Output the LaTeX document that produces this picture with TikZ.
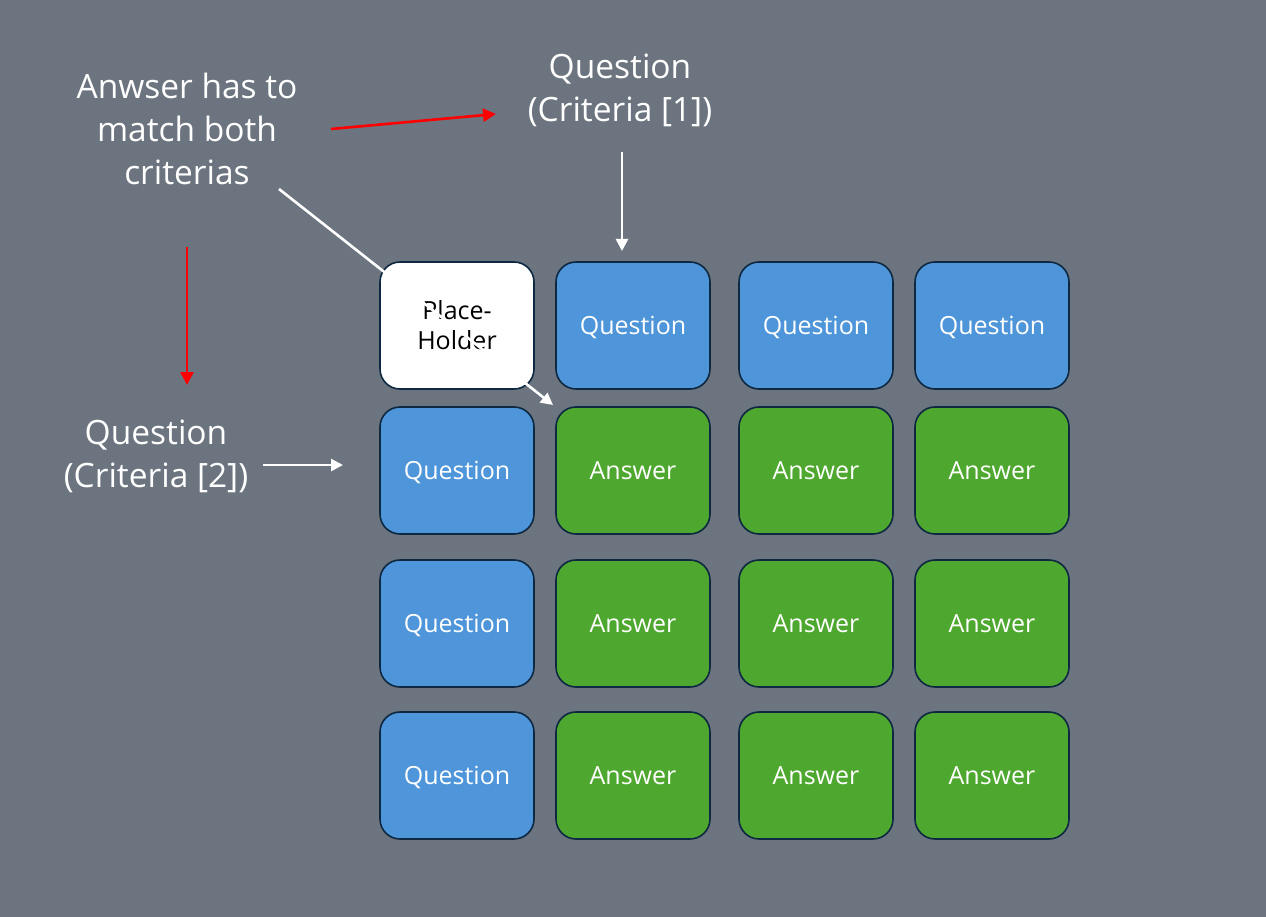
\documentclass[tikz,border=0pt]{standalone}
\usepackage{fontspec}
\setmainfont{Open Sans}
\usetikzlibrary{arrows.meta}
\definecolor{bg}{RGB}{108,117,127}
\definecolor{qblue}{RGB}{78,149,217}
\definecolor{agreen}{RGB}{78,167,46}
\definecolor{edge}{RGB}{14,40,65}
\tikzset{
  cell/.style={draw=edge, line width=1.6pt, rounded corners=20pt, minimum width=154pt, minimum height=127pt, inner sep=0pt, text=white, font=\fontsize{25}{30}\selectfont, align=center},
  qcell/.style={cell, fill=qblue, text depth=0pt},
  acell/.style={cell, fill=agreen, text depth=0pt},
  pcell/.style={cell, fill=white, text=black},
  lbl/.style={text=white, font=\fontsize{33.5}{43}\selectfont, align=center, inner sep=0pt},
  redarrow/.style={draw=red, line width=2.6pt, -{Triangle[length=13pt,width=13pt]}},
  whitearrow/.style={draw=white, line width=2.6pt, -{Triangle[length=12pt,width=12pt]}},
}
\begin{document}
\begin{tikzpicture}[x=1pt,y=-1pt]
\fill[bg] (0,0) rectangle (1266,917);
\useasboundingbox (0,0) rectangle (1266,917);
% column centers: 457, 633, 816, 992 ; row centers: 325.5, 470.5, 623.5, 775.5
\node[pcell] (ph) at (457,325.5) {Place-\\Holder};
\node[qcell] (q1) at (633,325.5) {Question};
\node[qcell] (q2) at (816,325.5) {Question};
\node[qcell] (q3) at (992,325.5) {Question};
\node[qcell] (l1) at (457,470.5) {Question};
\node[qcell] (l2) at (457,623.5) {Question};
\node[qcell] (l3) at (457,775.5) {Question};
\node[acell] (a11) at (633,470.5) {Answer};
\node[acell] (a12) at (816,470.5) {Answer};
\node[acell] (a13) at (992,470.5) {Answer};
\node[acell] (a21) at (633,623.5) {Answer};
\node[acell] (a22) at (816,623.5) {Answer};
\node[acell] (a23) at (992,623.5) {Answer};
\node[acell] (a31) at (633,775.5) {Answer};
\node[acell] (a32) at (816,775.5) {Answer};
\node[acell] (a33) at (992,775.5) {Answer};
% labels
\node[lbl] (crit1) at (620,90.5) {Question\\(Criteria [1])};
\node[lbl] (crit2) at (156,456.5) {Question\\(Criteria [2])};
\node[lbl] (both) at (187,129) {Anwser has to\\match both\\criterias};
% connector end points
\coordinate (r1s) at (331,129);
\coordinate (r1e) at (496,114);
\coordinate (r2s) at (187,247);
\coordinate (r2e) at (187,385);
\coordinate (w1s) at (622,152);
\coordinate (w1e) at (622,251);
\coordinate (w2s) at (263,465);
\coordinate (w2e) at (343,465);
\coordinate (w3s) at (279,189);
\coordinate (w3e) at (553,405);
\draw[redarrow] (r1s) -- (r1e);
\draw[redarrow] (r2s) -- (r2e);
\draw[whitearrow] (w1s) -- (w1e);
\draw[whitearrow] (w2s) -- (w2e);
\draw[whitearrow] (w3s) -- (w3e);
\end{tikzpicture}
\end{document}
